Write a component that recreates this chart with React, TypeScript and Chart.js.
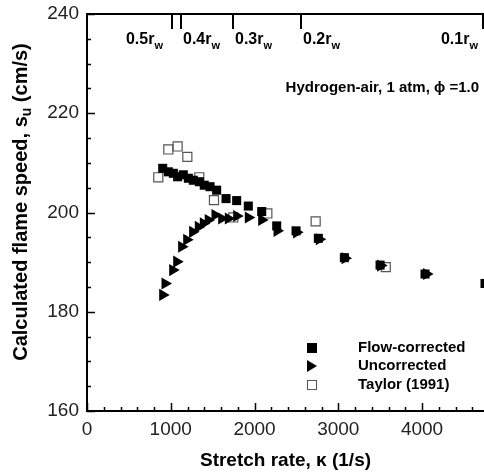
import React, { useEffect, useRef } from "react";
import { Chart, registerables } from "chart.js";

Chart.register(...registerables);

// Flow-corrected (filled squares)
const flowX = [904, 971, 1031, 1082, 1150, 1210, 1269, 1341, 1400, 1469, 1548, 1660, 1787, 1926, 2086, 2265, 2496, 2762, 3073, 3499, 4036, 4752];
const flowY = [208.9, 208.2, 207.9, 207.2, 207.6, 206.9, 206.5, 206.2, 205.5, 205.2, 204.5, 202.8, 202.4, 201.3, 200.2, 197.3, 196.3, 194.8, 190.9, 189.4, 187.6, 185.7];

// Uncorrected (right-pointing triangles)
const uncX = [904, 931, 1023, 1071, 1130, 1190, 1261, 1329, 1389, 1448, 1528, 1608, 1687, 1787, 1926, 2086, 2269, 2503, 2774, 3081, 3506, 4055];
const uncY = [183.4, 185.7, 188.4, 190.1, 193.1, 194.5, 196.1, 197.1, 197.8, 198.5, 199.5, 198.8, 198.8, 199.3, 199.0, 198.5, 196.3, 196.0, 194.6, 190.8, 189.3, 187.6];

// Taylor (1991) (open squares)
const taylorX = [851, 971, 1082, 1198, 1341, 1516, 1747, 2153, 2730, 3567];
const taylorY = [207.1, 212.7, 213.3, 211.2, 207.1, 202.5, 199.0, 199.8, 198.2, 189.0];

// Axes
const xMin = 0;
const xMax = 4740;
const yMin = 160;
const yMax = 240;
const xTickValues = [0, 1000, 2000, 3000, 4000];
const yTickValues = [160, 180, 200, 220, 240];

// Top axis (flame radius) ticks
const topTickValues = [1012, 1119, 1738, 2560, 4730];
const topTickLabels = ["0.5", "0.4", "0.3", "0.2", "0.1"];
const topTickSides = ["left", "right", "right", "right", "left"];

const legendLabels = ["Flow-corrected", "Uncorrected", "Taylor (1991)"];
const annotationText = "Hydrogen-air, 1 atm, \u03D5 =1.0";
const xTitle = "Stretch rate, \u03BA (1/s)";
const yTitleParts = ["Calculated flame speed, s", "u", " (cm/s)"];

const FONT = "'Liberation Sans', Arial, sans-serif";

const toPts = (xs: number[], ys: number[]) => xs.map((x, i) => ({ x, y: ys[i] }));

const decorPlugin = {
  id: "decor",
  afterDraw(chart: any) {
    const ctx: CanvasRenderingContext2D = chart.ctx;
    const xs = chart.scales.x;
    const ys = chart.scales.y;
    const a = chart.chartArea;
    ctx.save();
    ctx.strokeStyle = "#000";
    ctx.fillStyle = "#000";
    // frame (left, bottom, top)
    ctx.lineWidth = 2;
    ctx.beginPath();
    ctx.moveTo(a.right + 5, a.top);
    ctx.lineTo(a.left, a.top);
    ctx.lineTo(a.left, a.bottom);
    ctx.lineTo(a.right + 5, a.bottom);
    ctx.stroke();

    // x ticks (inward from bottom)
    ctx.lineWidth = 1.5;
    for (let v = xMin; v <= xMax; v += 200) {
      const px = Math.round(xs.getPixelForValue(v)) + 0.5;
      const major = v % 1000 === 0;
      const len = major ? 8 : 4;
      ctx.beginPath();
      ctx.moveTo(px, a.bottom);
      ctx.lineTo(px, a.bottom - len);
      ctx.stroke();
    }
    // y ticks (inward from left)
    for (let v = yMin; v <= yMax; v += 5) {
      const py = Math.round(ys.getPixelForValue(v)) + 0.5;
      const major = v % 20 === 0;
      const len = major ? 8 : 4;
      ctx.beginPath();
      ctx.moveTo(a.left, py);
      ctx.lineTo(a.left + len, py);
      ctx.stroke();
    }

    // tick labels
    ctx.font = `19px ${FONT}`;
    ctx.fillStyle = "#222";
    ctx.textAlign = "center";
    ctx.textBaseline = "middle";
    xTickValues.forEach((v) => {
      ctx.fillText(String(v), xs.getPixelForValue(v), a.bottom + 19);
    });
    ctx.textAlign = "right";
    ctx.textBaseline = "middle";
    yTickValues.forEach((v) => {
      ctx.fillText(String(v), a.left - 8, ys.getPixelForValue(v));
    });

    // axis titles
    ctx.fillStyle = "#000";
    ctx.font = `bold 19px ${FONT}`;
    ctx.textAlign = "center";
    ctx.textBaseline = "middle";
    ctx.fillText(xTitle, (a.left + a.right) / 2, 461);

    // y title with subscript
    ctx.save();
    ctx.translate(21, 202);
    ctx.rotate(-Math.PI / 2);
    const f1 = `bold 20px ${FONT}`;
    const f2 = `bold 14px ${FONT}`;
    ctx.font = f1;
    const w0 = ctx.measureText(yTitleParts[0]).width;
    const w2 = ctx.measureText(yTitleParts[2]).width;
    ctx.font = f2;
    const w1 = ctx.measureText(yTitleParts[1]).width;
    let sx = -(w0 + w1 + w2) / 2;
    ctx.textAlign = "left";
    ctx.font = f1;
    ctx.fillText(yTitleParts[0], sx, 0);
    sx += w0;
    ctx.font = f2;
    ctx.fillText(yTitleParts[1], sx, 6);
    sx += w1;
    ctx.font = f1;
    ctx.fillText(yTitleParts[2], sx, 0);
    ctx.restore();

    // top ticks with r_w labels
    ctx.lineWidth = 2;
    const tf1 = `bold 16px ${FONT}`;
    const tf2 = `bold 11px ${FONT}`;
    topTickValues.forEach((v, i) => {
      const px = Math.round(xs.getPixelForValue(v));
      ctx.beginPath();
      ctx.moveTo(px, a.top);
      ctx.lineTo(px, a.top + 15);
      ctx.stroke();
      const main = topTickLabels[i] + "r";
      ctx.font = tf1;
      const wm = ctx.measureText(main).width;
      ctx.font = tf2;
      const ws = ctx.measureText("w").width;
      const total = wm + ws;
      const startX = topTickSides[i] === "left" ? px - (i === 0 ? 9 : 5) - total : px + 2;
      ctx.textAlign = "left";
      ctx.textBaseline = "middle";
      ctx.font = tf1;
      ctx.fillText(main, startX, 40);
      ctx.font = tf2;
      ctx.fillText("w", startX + wm, 46);
    });

    // annotation
    ctx.font = `bold 15px ${FONT}`;
    ctx.textAlign = "right";
    ctx.textBaseline = "middle";
    ctx.fillText(annotationText, 479, 88);

    // legend
    const lx = 312;
    const rows = [348, 366, 385];
    ctx.textAlign = "left";
    ctx.font = `bold 15px ${FONT}`;
    legendLabels.forEach((t, i) => ctx.fillText(t, 358, rows[i]));
    // markers
    ctx.fillStyle = "#000";
    ctx.fillRect(lx - 5, rows[0] - 5, 10, 10);
    ctx.beginPath();
    ctx.moveTo(lx - 5, rows[1] - 6);
    ctx.lineTo(lx + 5, rows[1]);
    ctx.lineTo(lx - 5, rows[1] + 6);
    ctx.closePath();
    ctx.fill();
    ctx.strokeStyle = "#555";
    ctx.lineWidth = 1;
    ctx.strokeRect(lx - 4.5, rows[2] - 4.5, 9, 9);
    ctx.restore();
  },
};

export default function App() {
  const ref = useRef<HTMLCanvasElement | null>(null);
  useEffect(() => {
    if (!ref.current) return;
    const chart = new Chart(ref.current, {
      type: "scatter",
      data: {
        datasets: [
          {
            label: legendLabels[0],
            data: toPts(flowX, flowY),
            pointStyle: "rect",
            pointRadius: 6.4,
            backgroundColor: "#000",
            borderColor: "#000",
            borderWidth: 0,
            order: 1,
            clip: false,
          },
          {
            label: legendLabels[1],
            data: toPts(uncX, uncY),
            pointStyle: "triangle",
            pointRotation: 90,
            pointRadius: 7,
            backgroundColor: "#000",
            borderColor: "#000",
            borderWidth: 0,
            order: 2,
            clip: false,
          },
          {
            label: legendLabels[2],
            data: toPts(taylorX, taylorY),
            pointStyle: "rect",
            pointRadius: 6.4,
            backgroundColor: "rgba(255,255,255,0)",
            borderColor: "#555",
            borderWidth: 1.2,
            order: 3,
            clip: false,
          },
        ],
      },
      options: {
        animation: false,
        responsive: false,
        maintainAspectRatio: false,
        layout: { autoPadding: false, padding: { left: 87, top: 14, right: 0, bottom: 62 } },
        plugins: { legend: { display: false }, tooltip: { enabled: false } },
        scales: {
          x: { type: "linear", min: xMin, max: xMax, display: false },
          y: { type: "linear", min: yMin, max: yMax, display: false },
        },
      },
      plugins: [decorPlugin],
    });
    return () => chart.destroy();
  }, []);
  return (
    <div style={{ position: "fixed", left: 0, top: 0, width: 484, height: 473, background: "#fff" }}>
      <canvas ref={ref} width={484} height={473} style={{ width: 484, height: 473 }} />
    </div>
  );
}
